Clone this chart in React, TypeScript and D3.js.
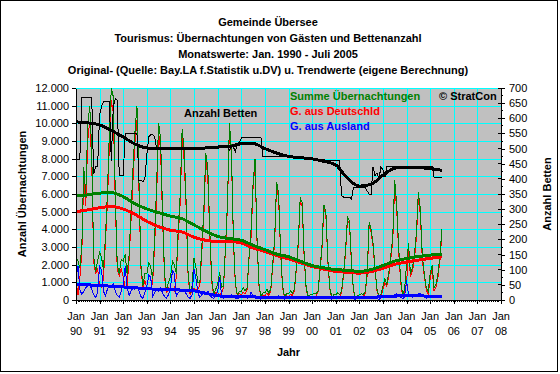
import React, { useEffect, useRef } from 'react';
import * as d3 from 'd3';

// Monatswerte Jan. 1990 - Juli 2005, je Zeile ein Jahr (Jan..Dez)
const jahre = [1990, 1991, 1992, 1993, 1994, 1995, 1996, 1997, 1998, 1999, 2000, 2001, 2002, 2003, 2004, 2005];

const uebernSumme = [
    [2400, 2200, 1800, 3000, 7500, 6000, 9800, 11000, 8500, 2500, 1600, 2200],
    [2700, 2400, 1700, 3500, 6000, 9500, 12000, 11500, 6000, 2000, 1500, 2300],
    [2200, 2600, 1500, 2500, 5000, 7500, 9500, 11000, 6800, 2000, 800, 1500],
    [1500, 2100, 1900, 1200, 3500, 6500, 10000, 9200, 5000, 1500, 500, 1000],
    [1300, 2200, 2000, 1500, 4000, 6000, 9700, 8500, 5500, 1500, 400, 800],
    [2400, 1800, 1000, 1000, 3000, 5000, 8300, 7500, 4000, 1200, 300, 600],
    [900, 1600, 700, 800, 3000, 5500, 10000, 8500, 3500, 1000, 250, 500],
    [500, 700, 500, 700, 2500, 4000, 6500, 8000, 3500, 900, 200, 400],
    [400, 600, 400, 600, 2000, 3500, 6700, 6000, 2800, 800, 200, 350],
    [350, 500, 400, 600, 1800, 3300, 5800, 5500, 2500, 700, 200, 300],
    [300, 400, 350, 500, 1700, 3000, 5400, 5000, 2300, 700, 150, 300],
    [300, 400, 300, 500, 1500, 2800, 4700, 4500, 2200, 600, 150, 250],
    [300, 350, 300, 450, 1500, 4400, 4000, 3200, 1800, 600, 150, 300],
    [800, 1200, 900, 1500, 2500, 3500, 6800, 5500, 3000, 1200, 300, 600],
    [2000, 3200, 1500, 1800, 2500, 3800, 6100, 5200, 2500, 1500, 700, 500],
    [1500, 2000, 700, 900, 1500, 2500, 4000],
];

const uebernAusland = [
    [1300, 1900, 600, 300, 500, 700, 800, 900, 600, 300, 150, 400],
    [1900, 1700, 500, 250, 600, 800, 700, 900, 500, 250, 150, 500],
    [900, 1900, 700, 250, 500, 700, 600, 800, 500, 200, 100, 400],
    [800, 1400, 1300, 200, 400, 600, 500, 700, 400, 200, 100, 300],
    [700, 1650, 1500, 200, 400, 500, 500, 600, 350, 150, 100, 300],
    [1750, 1200, 400, 150, 300, 400, 400, 500, 300, 150, 80, 200],
    [500, 1300, 300, 100, 150, 200, 250, 300, 200, 100, 60, 150],
    [200, 250, 150, 100, 150, 450, 200, 250, 150, 80, 50, 120],
    [150, 200, 150, 100, 150, 200, 200, 250, 150, 80, 50, 120],
    [150, 180, 140, 100, 150, 180, 200, 220, 150, 80, 50, 110],
    [140, 180, 130, 90, 140, 180, 190, 220, 140, 70, 50, 100],
    [130, 170, 120, 90, 130, 170, 180, 200, 130, 70, 40, 100],
    [130, 160, 120, 90, 130, 200, 180, 190, 130, 70, 40, 100],
    [180, 220, 150, 120, 200, 250, 300, 350, 250, 150, 80, 150],
    [1100, 300, 200, 150, 250, 300, 350, 350, 250, 150, 100, 200],
    [250, 250, 200, 150, 200, 250, 250],
];

const betten = [
    [465, 465, 465, 670, 670, 670, 670, 670, 670, 415, 440, 440],
    [610, 640, 655, 655, 655, 655, 460, 640, 665, 660, 410, 410],
    [410, 550, 550, 550, 550, 550, 550, 550, 395, 395, 390, 400],
    [480, 540, 545, 545, 540, 500, 500, 500, 500, 500, 500, 500],
    [500, 500, 500, 500, 500, 500, 500, 500, 500, 500, 500, 500],
    [500, 500, 500, 500, 500, 500, 502, 502, 502, 502, 505, 505],
    [505, 505, 505, 505, 505, 505, 495, 510, 505, 490, 515, 520],
    [535, 535, 535, 535, 535, 535, 535, 535, 535, 535, 535, 475],
    [475, 475, 475, 475, 475, 475, 475, 475, 475, 475, 475, 475],
    [472, 472, 470, 470, 470, 468, 468, 468, 466, 466, 466, 466],
    [466, 466, 465, 465, 465, 465, 465, 461, 461, 461, 461, 461],
    [461, 461, 461, 345, 340, 338, 340, 340, 332, 372, 372, 372],
    [372, 372, 372, 372, 360, 350, 350, 440, 410, 420, 400, 440],
    [430, 405, 440, 440, 440, 440, 440, 440, 440, 440, 440, 440],
    [440, 440, 440, 440, 440, 440, 440, 440, 440, 440, 440, 440],
    [440, 440, 405, 405, 405, 405, 405],
];

const trendZeit = [
    '1990-01', '1990-07', '1991-01', '1991-07', '1992-01', '1992-07', '1993-01', '1993-07',
    '1994-01', '1994-07', '1995-01', '1995-07', '1996-01', '1996-07', '1997-01', '1997-07',
    '1998-01', '1998-07', '1999-01', '1999-07', '2000-01', '2000-07', '2001-01', '2001-07',
    '2002-01', '2002-07', '2003-01', '2003-07', '2004-01', '2004-07', '2005-01', '2005-07',
];
const trendSumme = [5880, 5950, 6050, 6080, 5850, 5450, 5150, 4950, 4750, 4600, 4250, 3900, 3600, 3480, 3380, 3100,
    2850, 2600, 2450, 2200, 1950, 1820, 1720, 1680, 1620, 1720, 1950, 2200, 2350, 2460, 2540, 2600];
const trendDeutsch = [5000, 5100, 5220, 5300, 5150, 4850, 4450, 4150, 3950, 3850, 3550, 3380, 3320, 3320, 3220, 2950,
    2750, 2520, 2330, 2120, 1900, 1750, 1620, 1570, 1520, 1600, 1800, 2020, 2150, 2260, 2360, 2450];
const trendAusland = [900, 860, 820, 780, 740, 690, 640, 600, 580, 560, 520, 380, 240, 180, 170, 170,
    165, 165, 160, 160, 155, 150, 150, 150, 150, 160, 180, 220, 250, 240, 210, 200];
const trendBetten = [588, 585, 578, 560, 538, 515, 502, 500, 500, 500, 500, 502, 505, 507, 516, 517,
    500, 485, 474, 470, 466, 458, 446, 402, 376, 382, 412, 435, 439, 437, 434, 428];

const titelZeilen = [
    'Gemeinde Übersee',
    'Tourismus: Übernachtungen von Gästen und Bettenanzahl',
    'Monatswerte: Jan. 1990 - Juli 2005',
    'Original- (Quelle: Bay.LA f.Statistik u.DV) u. Trendwerte (eigene Berechnung)',
];
const linksTicks = [0, 1000, 2000, 3000, 4000, 5000, 6000, 7000, 8000, 9000, 10000, 11000, 12000];
const rechtsTicks = [0, 50, 100, 150, 200, 250, 300, 350, 400, 450, 500, 550, 600, 650, 700];
const achsenJahre = [1990, 1991, 1992, 1993, 1994, 1995, 1996, 1997, 1998, 1999, 2000, 2001, 2002, 2003, 2004, 2005, 2006, 2007, 2008];

const FONT = '"Liberation Sans", Arial, sans-serif';

type P = { date: Date; v: number };

const monatlich = (rows: number[][]): P[] => {
    const out: P[] = [];
    rows.forEach((row, yi) => row.forEach((v, mi) => out.push({ date: new Date(jahre[yi], mi, 1), v })));
    return out;
};

const App = () => {
    const chartRef = useRef<SVGSVGElement>(null);

    useEffect(() => {
        const svg = d3.select(chartRef.current);
        svg.selectAll('*').remove();

        const plot = { left: 76, right: 501, top: 88, bottom: 300 };

        const x = d3.scaleTime()
            .domain([new Date(1990, 0, 1), new Date(2008, 0, 1)])
            .range([plot.left, plot.right]);
        const yL = d3.scaleLinear().domain([0, 12000]).range([plot.bottom, plot.top]);
        const yR = d3.scaleLinear().domain([0, 700]).range([plot.bottom, plot.top]);

        const de = d3.formatLocale({ decimal: ',', thousands: '.', grouping: [3], currency: ['', ''] });
        const fmt = de.format(',');

        // frame
        svg.append('rect').attr('x', 0.5).attr('y', 0.5).attr('width', 557).attr('height', 371)
            .attr('fill', '#fff').attr('stroke', '#000');

        // plot background
        svg.append('rect')
            .attr('x', plot.left).attr('y', plot.top)
            .attr('width', plot.right - plot.left).attr('height', plot.bottom - plot.top)
            .attr('fill', '#C0C0C0');

        // gridlines
        const grid = svg.append('g').attr('stroke', '#00FFFF').attr('shape-rendering', 'crispEdges');
        linksTicks.filter(t => t > 0).forEach(t => {
            grid.append('line').attr('x1', plot.left).attr('x2', plot.right)
                .attr('y1', Math.round(yL(t)) + 0.5).attr('y2', Math.round(yL(t)) + 0.5);
        });
        achsenJahre.slice(1, -1).forEach(j => {
            const xx = Math.round(x(new Date(j, 0, 1))) + 0.5;
            grid.append('line').attr('x1', xx).attr('x2', xx).attr('y1', plot.top).attr('y2', plot.bottom);
        });

        const summe = monatlich(uebernSumme);
        const ausland = monatlich(uebernAusland);
        // Deutschland = Summe - Ausland
        const deutsch = summe.map((d, i) => ({ date: d.date, v: d.v - ausland[i].v }));
        const bett = monatlich(betten);

        const parse = d3.timeParse('%Y-%m');
        const trend = (vals: number[]): P[] => vals.map((v, i) => ({ date: parse(trendZeit[i]) as Date, v }));

        const lineL = d3.line<P>().x(d => x(d.date)).y(d => yL(d.v));
        const lineR = d3.line<P>().x(d => x(d.date)).y(d => yR(d.v));
        const smoothL = d3.line<P>().x(d => x(d.date)).y(d => yL(d.v)).curve(d3.curveMonotoneX);
        const smoothR = d3.line<P>().x(d => x(d.date)).y(d => yR(d.v)).curve(d3.curveMonotoneX);

        const draw = (data: P[], gen: d3.Line<P>, color: string, w: number) => {
            svg.append('path').datum(data).attr('d', gen)
                .attr('fill', 'none').attr('stroke', color).attr('stroke-width', w)
                .attr('shape-rendering', 'crispEdges');
        };

        draw(deutsch, lineL, '#FF0000', 1);
        draw(summe, lineL, '#008000', 1);
        draw(ausland, lineL, '#0000FF', 1);
        draw(bett, lineR, '#000000', 1);
        draw(trend(trendBetten), smoothR, '#000000', 3);
        draw(trend(trendDeutsch), smoothL, '#FF0000', 3);
        draw(trend(trendSumme), smoothL, '#008000', 3);
        draw(trend(trendAusland), smoothL, '#0000FF', 3);

        // left axis
        const axL = svg.append('g').attr('transform', `translate(${plot.left},0)`)
            .call(d3.axisLeft(yL).tickValues(linksTicks).tickSize(4).tickSizeOuter(0).tickPadding(3).tickFormat(d => fmt(d as number)));
        // right axis
        const axR = svg.append('g').attr('transform', `translate(${plot.right},0)`)
            .call(d3.axisRight(yR).tickValues(rechtsTicks).tickSize(4).tickSizeOuter(0).tickPadding(4).tickFormat(d => String(d)));
        rechtsTicks.forEach(t => {
            axR.append('line').attr('x1', -3).attr('x2', 0).attr('y1', yR(t)).attr('y2', yR(t)).attr('stroke', '#000');
            if (t < 700) axR.append('line').attr('x1', 0).attr('x2', 2).attr('y1', yR(t + 25)).attr('y2', yR(t + 25)).attr('stroke', '#000');
        });
        // bottom axis
        const axB = svg.append('g').attr('transform', `translate(0,${plot.bottom})`)
            .call(d3.axisBottom(x).tickValues(achsenJahre.map(j => new Date(j, 0, 1))).tickSize(4).tickSizeOuter(0).tickFormat(() => ''));
        x.ticks(d3.timeMonth.every(1)).forEach(m => {
            axB.append('line').attr('x1', x(m)).attr('x2', x(m)).attr('y1', 0).attr('y2', 2).attr('stroke', '#000');
        });
        [axL, axR, axB].forEach(g => {
            g.attr('shape-rendering', 'crispEdges');
            g.selectAll('text').attr('font-family', FONT).attr('font-size', 11).attr('fill', '#000');
            g.selectAll('line').attr('stroke', '#000');
            g.select('.domain').attr('stroke', '#000');
        });

        const txt = (s: string, tx: number, ty: number, opts: { anchor?: string; bold?: boolean; color?: string; rot?: boolean } = {}) => {
            const t = svg.append('text')
                .attr('font-family', FONT).attr('font-size', 11)
                .attr('font-weight', opts.bold ? 'bold' : 'normal')
                .attr('fill', opts.color || '#000')
                .attr('text-anchor', opts.anchor || 'start')
                .text(s);
            if (opts.rot) t.attr('transform', `translate(${tx},${ty}) rotate(-90)`);
            else t.attr('x', tx).attr('y', ty);
        };

        achsenJahre.forEach(j => {
            const xx = x(new Date(j, 0, 1));
            txt('Jan', xx, 320, { anchor: 'middle' });
            txt(d3.timeFormat('%y')(new Date(j, 0, 1)), xx, 335, { anchor: 'middle' });
        });

        titelZeilen.forEach((s, i) => txt(s, 268, 26 + i * 16, { anchor: 'middle', bold: true }));
        txt('Jahr', (plot.left + plot.right) / 2, 356, { anchor: 'middle', bold: true });
        txt('Anzahl Übernachtungen', 26, (plot.top + plot.bottom) / 2, { anchor: 'middle', bold: true, rot: true });
        txt('Anzahl Betten', 551, (plot.top + plot.bottom) / 2, { anchor: 'middle', bold: true, rot: true });

        txt('Summe Übernachtungen', 290, 100, { bold: true, color: '#008000' });
        txt('G. aus Deutschld', 290, 115, { bold: true, color: '#FF0000' });
        txt('G. aus Ausland', 290, 130, { bold: true, color: '#0000FF' });
        txt('© StratCon', 439, 100, { bold: true });
        txt('Anzahl Betten', 184, 117, { bold: true });
    }, []);

    return (
        <svg ref={chartRef} width={560} height={374}
            style={{ position: 'absolute', left: 0, top: 0, background: '#fff' }} />
    );
};

export default App;
